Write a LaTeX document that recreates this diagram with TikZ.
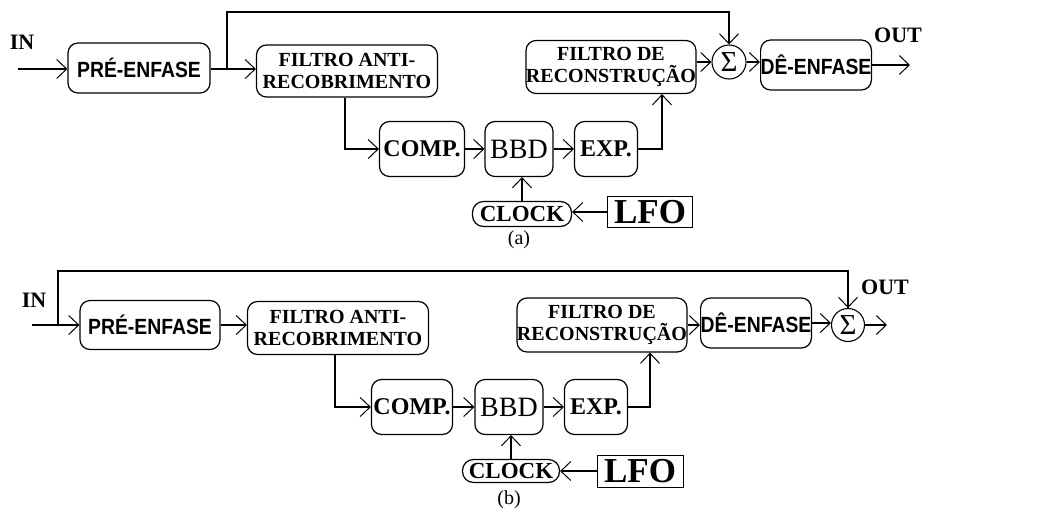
\documentclass[tikz,border=0pt]{standalone}
\usepackage{fontspec}
\setmainfont{Liberation Serif}
\newfontfamily\condsans[FakeStretch=0.88]{Liberation Sans}
\usetikzlibrary{arrows.meta,positioning,calc}

\begin{document}
\begin{tikzpicture}[x=1pt,y=-1pt,>={Straight Barb[length=10pt,width=19pt,line width=1pt]},
  blk/.style={draw,line width=1.2pt,rounded corners=10pt,inner sep=0pt,align=center,
    font=\bfseries\fontsize{20}{22}\selectfont},
  sansblk/.style={blk,font=\condsans\bfseries\fontsize{22}{24}\selectfont},
  small/.style={blk,font=\bfseries\fontsize{24}{24}\selectfont},
  clockbox/.style={blk,rounded corners=11pt,font=\bfseries\fontsize{23}{23}\selectfont},
  lfobox/.style={draw,line width=0.9pt,inner sep=0pt,font=\bfseries\fontsize{35}{35}\selectfont},
  sumnode/.style={circle,draw,line width=1.1pt,inner sep=0pt,minimum size=34pt,
    font=\fontsize{29}{29}\selectfont},
  io/.style={font=\bfseries\fontsize{22}{22}\selectfont},
  wire/.style={line width=1.4pt},
  every node/.style={align=center}]
  \useasboundingbox (0,0) rectangle (1037,515);

  % (a) -- feedback taken after the pre-emphasis
  \node[io] (in1) at (22,42) {IN};
  \node[io] (out1) at (898,35) {OUT};
  \node[sansblk,minimum width=142pt,minimum height=50pt] (pre1) at (139,68) {PRÉ-ENFASE};
  \node[blk,minimum width=181pt,minimum height=52pt] (aa1) at (347,71) {FILTRO ANTI-\\RECOBRIMENTO};
  \node[blk,minimum width=165pt,minimum height=53pt] (rec1) at (611,67) {FILTRO DE\\RECONSTRUÇÃO};
  \node[sumnode] (sum1) at (729,62) {Σ};
  \node[sansblk,minimum width=98pt,minimum height=50pt] (de1) at (816,65) {DÊ-ENFASE};
  \node[small,minimum width=85pt,minimum height=55pt] (comp1) at (422,149) {COMP.};
  \node[blk,font=\fontsize{28}{28}\selectfont,minimum width=68pt,minimum height=55pt] (bbd1) at (519,149) {BBD};
  \node[small,minimum width=63pt,minimum height=55pt] (exp1) at (606,149) {EXP.};
  \node[clockbox,minimum width=99pt,minimum height=25pt] (clk1) at (522,214) {CLOCK};
  \node[lfobox,minimum width=85pt,minimum height=31pt] (lfo1) at (650,212) {LFO};
  \node[font=\fontsize{20}{20}\selectfont] (cap1) at (519,240) {(a)};
  \coordinate (src1) at (18,69);
  \coordinate (br1) at (227,69);
  \coordinate (top1) at (227,12);
  \coordinate (dst1) at (910,65);
  \draw[->,wire] (src1) -- (src1 -| pre1.west);
  \draw[->,wire] (pre1.east |- br1) -- (br1 -| aa1.west);
  \draw[->,wire] (br1) -- (top1) -| (sum1.north);
  \draw[->,wire] (aa1.south -| 345,0) |- (comp1.west);
  \draw[->,wire] (comp1) -- (bbd1);
  \draw[->,wire] (bbd1) -- (exp1);
  \draw[->,wire] (exp1.east) -| ([xshift=51pt]rec1.south);
  \draw[->,wire] (clk1.north) -- (clk1.north |- bbd1.south);
  \draw[->,wire] (lfo1.west) -- (lfo1.west -| clk1.east);
  \draw[->,wire] (rec1.east |- sum1) -- (sum1.west);
  \draw[->,wire] (sum1.east) -- (sum1.east -| de1.west);
  \draw[->,wire] (de1.east) -- (dst1);

  % (b) -- input added at the output
  \node[io] (in2) at (34,300) {IN};
  \node[io] (out2) at (885,287) {OUT};
  \node[sansblk,minimum width=140pt,minimum height=49pt] (pre2) at (150,325) {PRÉ-ENFASE};
  \node[blk,minimum width=181pt,minimum height=53pt] (aa2) at (338,328) {FILTRO ANTI-\\RECOBRIMENTO};
  \node[blk,minimum width=161pt,minimum height=54pt] (rec2) at (602,325) {FILTRO DE\\RECONSTRUÇÃO};
  \node[sansblk,minimum width=103pt,minimum height=50pt] (de2) at (756,323) {DÊ-ENFASE};
  \node[sumnode,minimum size=33pt] (sum2) at (848,325) {Σ};
  \node[small,minimum width=81pt,minimum height=55pt] (comp2) at (412,407) {COMP.};
  \node[blk,font=\fontsize{28}{28}\selectfont,minimum width=68pt,minimum height=55pt] (bbd2) at (509,407) {BBD};
  \node[small,minimum width=63pt,minimum height=55pt] (exp2) at (596,407) {EXP.};
  \node[clockbox,minimum width=97pt,minimum height=23pt] (clk2) at (511,471) {CLOCK};
  \node[lfobox,minimum width=86pt,minimum height=32pt] (lfo2) at (640,471) {LFO};
  \node[font=\fontsize{20}{20}\selectfont] (cap2) at (509,500) {(b)};
  \coordinate (src2) at (32,325);
  \coordinate (br2) at (58,325);
  \coordinate (top2) at (58,271);
  \coordinate (dst2) at (887,325);
  \draw[->,wire] (src2) -- (src2 -| pre2.west);
  \draw[wire] (br2) -- (top2) -| (sum2.north);
  \draw[->,wire] (sum2.north |- top2) -- (sum2.north);
  \draw[->,wire] (pre2.east) -- (pre2.east -| aa2.west);
  \draw[->,wire] (aa2.south -| 335,0) |- (comp2.west);
  \draw[->,wire] (comp2) -- (bbd2);
  \draw[->,wire] (bbd2) -- (exp2);
  \draw[->,wire] (exp2.east) -| ([xshift=48pt]rec2.south);
  \draw[->,wire] (clk2.north) -- (clk2.north |- bbd2.south);
  \draw[->,wire] (lfo2.west) -- (lfo2.west -| clk2.east);
  \draw[->,wire] (rec2.east) -- (rec2.east -| de2.west);
  \draw[->,wire] (de2.east) -- (de2.east -| sum2.west);
  \draw[->,wire] (sum2.east) -- (dst2);
\end{tikzpicture}
\end{document}
